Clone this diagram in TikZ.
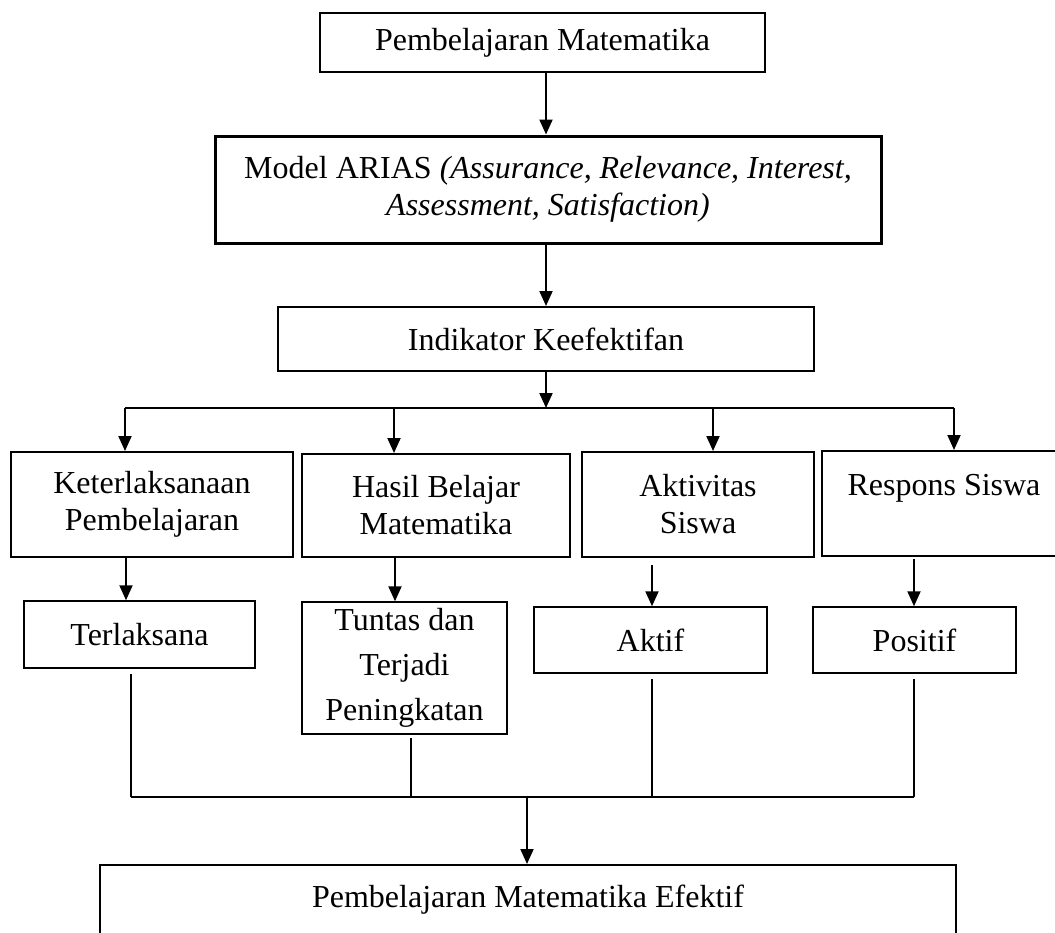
\documentclass[tikz,border=0pt]{standalone}
\usepackage{fontspec}
\setmainfont{Liberation Serif}
\usetikzlibrary{arrows.meta}
\begin{document}
\begin{tikzpicture}[x=1pt,y=-1pt,
  box/.style={draw, rectangle, inner sep=0pt, align=center, line width=2pt,
    font=\fontsize{32}{37}\selectfont},
  arr/.style={-{Triangle[width=13pt,length=15pt]}, line width=2pt},
  ln/.style={line width=1.2pt}]
\useasboundingbox (0,0) rectangle (1055,932);

% top chain
\node[box, line width=1.2pt, minimum width=445pt, minimum height=59pt] (b1) at (542.5,42.5) {Pembelajaran Matematika};
\node[box, line width=3pt, minimum width=666pt, minimum height=107pt] (b2) at (548,189.5)
  {Model ARIAS \textit{(Assurance, Relevance, Interest,}\\\textit{Assessment, Satisfaction)}};
\node[box, minimum width=536pt, minimum height=64pt] (b3) at (546,339) {Indikator Keefektifan};

% indicator row
\node[box, minimum width=282pt, minimum height=105pt] (k) at (152,504.5) {Keterlaksanaan\\Pembelajaran};
\node[box, minimum width=268pt, minimum height=103pt] (h) at (436,505.5) {Hasil Belajar\\Matematika};
\node[box, minimum width=232pt, minimum height=105pt] (a) at (698,504.5) {Aktivitas\\Siswa};
\node[box, minimum width=244pt, minimum height=105pt] (r) at (944,503.5) {Respons Siswa\\\mbox{}};

% criteria row
\node[box, line width=1.5pt, minimum width=231pt, minimum height=67pt] (t) at (139.5,634.5) {Terlaksana};
\node[box, line width=1.5pt, minimum width=205pt, minimum height=132pt,
  font=\fontsize{32}{45}\selectfont] (u) at (404.5,668) {Tuntas dan\\Terjadi\\Peningkatan};
\node[box, line width=1.5pt, minimum width=233pt, minimum height=66pt] (ak) at (650.5,640) {Aktif};
\node[box, line width=1.5pt, minimum width=203pt, minimum height=66pt] (p) at (914.5,640) {Positif};

% final
\node[box, line width=1.5pt, anchor=north, minimum width=856pt, minimum height=70pt] (fin) at (528,864)
  {Pembelajaran Matematika Efektif};

% coordinates for connector columns
\coordinate (c0) at (546,0);
\coordinate (j) at (546,408);
\coordinate (x1) at (125,0);
\coordinate (x2) at (394,0);
\coordinate (x3) at (713,0);
\coordinate (x4) at (954,0);
\coordinate (d1) at (126,0);
\coordinate (d2) at (395,0);
\coordinate (d3) at (652,0);
\coordinate (d4) at (914,0);
\coordinate (e1) at (131,0);
\coordinate (e2) at (411,0);
\coordinate (m) at (527,797);

% connectors
\draw[arr] (b1.south -| c0) -- (b2.north -| c0);
\draw[arr] (b2.south -| c0) -- (b3.north -| c0);
\draw[arr] (b3.south -| c0) -- (j);
\draw[line width=2pt] (x1 |- j) -- (x4 |- j);
\draw[arr] (x1 |- j) -- (k.north -| x1);
\draw[arr] (x2 |- j) -- (h.north -| x2);
\draw[arr] (x3 |- j) -- (a.north -| x3);
\draw[arr] (x4 |- j) -- (r.north -| x4);

\draw[arr] (k.south -| d1) -- (t.north -| d1);
\draw[arr] (h.south -| d2) -- (u.north -| d2);
\draw[arr] ([yshift=-7pt]a.south -| d3) -- (ak.north -| d3);
\draw[arr] ([yshift=-2pt]r.south -| d4) -- (p.north -| d4);

\draw[ln] ([yshift=-5pt]t.south -| e1) -- (e1 |- m);
\draw[ln] ([yshift=-3pt]u.south -| e2) -- (e2 |- m);
\draw[ln] ([yshift=-5pt]ak.south -| d3) -- (d3 |- m);
\draw[ln] ([yshift=-5pt]p.south -| d4) -- (d4 |- m);
\draw[line width=1.5pt] (e1 |- m) -- (d4 |- m);
\draw[arr] (m) -- (fin.north -| m);
\end{tikzpicture}
\end{document}
